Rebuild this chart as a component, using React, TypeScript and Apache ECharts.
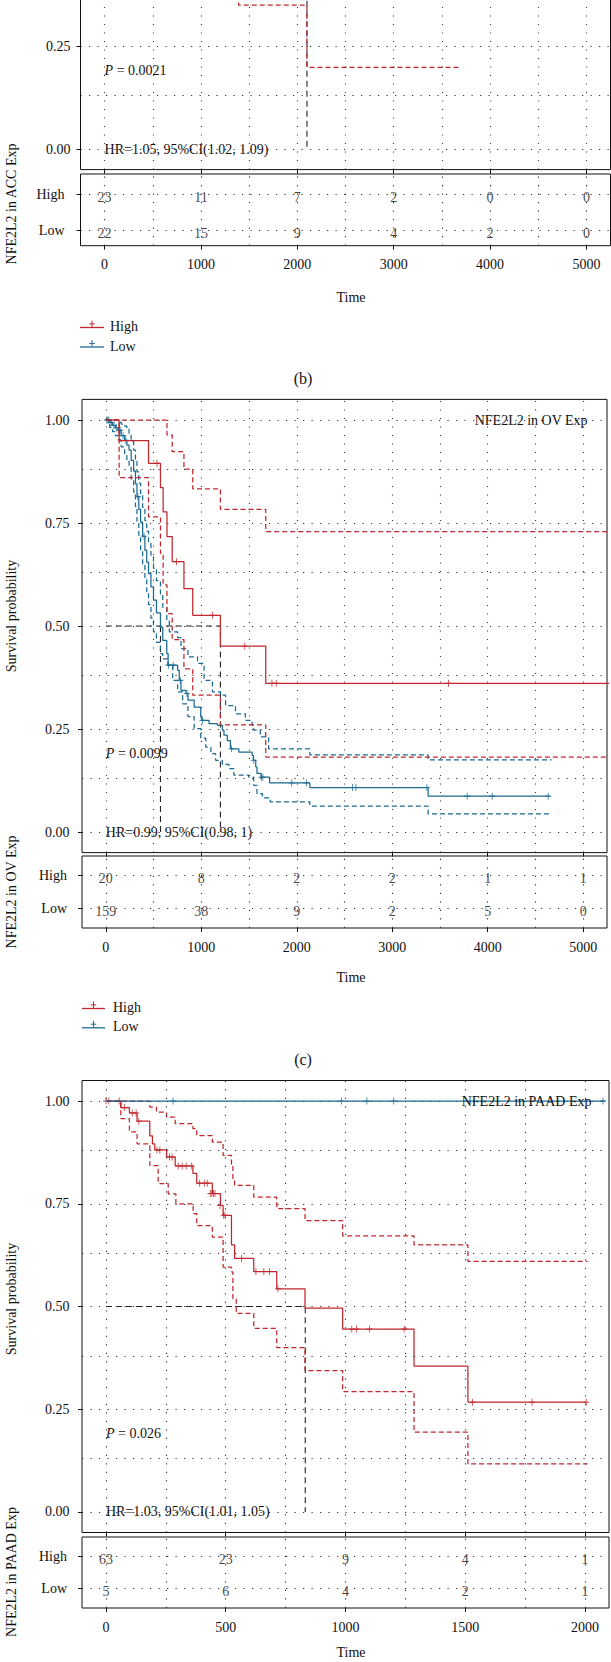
import React, { useEffect, useRef } from "react";
import * as echarts from "echarts";

const W = 611;
const H = 1662;
// the top panel starts above the page: the chart is drawn taller and shifted up by this much
const SHIFT = 284;
const RED = "#C1272D";
const BLUE = "#1B6B93";
const INK = "#111111";
const FONT = "'Liberation Serif', 'Times New Roman', serif";

// ---------- ticks ----------
const LONG_TIME_TICKS = [0, 1000, 2000, 3000, 4000, 5000];
const LONG_TIME_GRID = [0, 500, 1000, 1500, 2000, 2500, 3000, 3500, 4000, 4500, 5000];
const SHORT_TIME_TICKS = [0, 500, 1000, 1500, 2000];
const SHORT_TIME_GRID = [0, 250, 500, 750, 1000, 1250, 1500, 1750, 2000];
const SURV_TICKS = [0, 0.25, 0.5, 0.75, 1];
const SURV_GRID = [0, 0.125, 0.25, 0.375, 0.5, 0.625, 0.75, 0.875, 1];
const STRATA = ["Low", "High"]; // risk-table rows at y = 1, 2
const STRATA_Y = [1, 2];

// ---------- (b) ACC ----------
const ACC_HIGH_AT_RISK = [23, 11, 7, 2, 0, 0];
const ACC_LOW_AT_RISK = [22, 15, 9, 4, 2, 0];
const ACC_HIGH_LOWER = [[1000, 0.42], [1390, 0.349], [2100, 0.198], [3700, 0.198]];
const ACC_MEDIAN = [[0, 0.5], [2100, 0.5], [2100, 0]];

// ---------- (c) OV ----------
const OV_HIGH_AT_RISK = [20, 8, 2, 2, 1, 1];
const OV_LOW_AT_RISK = [159, 38, 9, 2, 5, 0];
const OV_HIGH_SURV = [[0, 1], [139, 0.95], [447, 0.895], [572, 0.836], [600, 0.777], [640, 0.717], [695, 0.656], [818, 0.591], [910, 0.526], [1200, 0.451], [1675, 0.361], [5300, 0.361]];
const OV_HIGH_UPPER = [[0, 1], [640, 0.964], [695, 0.923], [818, 0.881], [910, 0.833], [1200, 0.783], [1675, 0.729], [5300, 0.729]];
const OV_HIGH_LOWER = [[0, 1], [139, 0.86], [447, 0.765], [572, 0.676], [600, 0.6], [640, 0.53], [695, 0.467], [818, 0.396], [910, 0.332], [1200, 0.26], [1675, 0.182], [5300, 0.182]];
const OV_HIGH_CENSOR = [[535, 0.895], [740, 0.656], [1118, 0.526], [1455, 0.451], [1740, 0.361], [1785, 0.361], [3590, 0.361]];
const OV_LOW_SURV = [[0, 1], [40, 0.994], [70, 0.987], [100, 0.981], [130, 0.975], [160, 0.962], [197, 0.951], [220, 0.939], [243, 0.927], [265, 0.902], [291, 0.876], [310, 0.845], [326, 0.814], [345, 0.783], [364, 0.752], [385, 0.718], [409, 0.684], [428, 0.655], [447, 0.627], [472, 0.595], [499, 0.563], [530, 0.532], [572, 0.497], [596, 0.465], [638, 0.433], [652, 0.405], [752, 0.392], [769, 0.368], [787, 0.344], [839, 0.336], [860, 0.32], [925, 0.303], [994, 0.279], [1005, 0.271], [1081, 0.263], [1168, 0.259], [1220, 0.247], [1237, 0.235], [1272, 0.222], [1305, 0.202], [1393, 0.194], [1532, 0.186], [1545, 0.174], [1570, 0.158], [1583, 0.142], [1625, 0.133], [1715, 0.119], [2137, 0.108], [3376, 0.087], [4650, 0.087]];
const OV_LOW_UPPER = [[0, 1], [130, 0.995], [160, 0.99], [197, 0.985], [220, 0.977], [243, 0.967], [265, 0.948], [291, 0.927], [310, 0.9], [326, 0.874], [345, 0.847], [364, 0.819], [385, 0.788], [409, 0.756], [428, 0.73], [447, 0.702], [472, 0.672], [499, 0.64], [530, 0.61], [572, 0.578], [596, 0.545], [638, 0.513], [665, 0.486], [752, 0.472], [787, 0.445], [860, 0.425], [960, 0.409], [1029, 0.368], [1116, 0.34], [1202, 0.332], [1254, 0.307], [1358, 0.287], [1462, 0.271], [1532, 0.259], [1549, 0.247], [1618, 0.231], [1705, 0.202], [2137, 0.187], [3376, 0.175], [4669, 0.175]];
const OV_LOW_LOWER = [[0, 1], [40, 0.982], [70, 0.972], [100, 0.962], [130, 0.952], [160, 0.935], [197, 0.917], [220, 0.902], [243, 0.887], [265, 0.856], [291, 0.825], [310, 0.79], [326, 0.754], [345, 0.72], [364, 0.685], [385, 0.648], [409, 0.612], [428, 0.582], [447, 0.552], [472, 0.519], [499, 0.486], [530, 0.46], [572, 0.433], [596, 0.42], [648, 0.405], [700, 0.368], [752, 0.34], [804, 0.311], [860, 0.28], [925, 0.251], [994, 0.228], [1046, 0.206], [1100, 0.19], [1150, 0.174], [1220, 0.164], [1289, 0.154], [1341, 0.138], [1497, 0.133], [1549, 0.113], [1583, 0.093], [1640, 0.083], [1722, 0.073], [2137, 0.063], [3376, 0.044], [4669, 0.044]];
const OV_LOW_CENSOR = [[10, 1], [20, 1], [30, 1], [45, 0.994], [60, 0.994], [85, 0.987], [110, 0.981], [140, 0.975], [150, 0.975], [180, 0.962], [210, 0.951], [336, 0.814], [400, 0.718], [655, 0.405], [705, 0.405], [780, 0.368], [850, 0.336], [1012, 0.271], [1317, 0.202], [1549, 0.174], [1630, 0.133], [1645, 0.133], [1947, 0.119], [2102, 0.119], [2584, 0.108], [2619, 0.108], [3363, 0.108], [3785, 0.087], [4047, 0.087], [4634, 0.087]];
const OV_MEDIAN_HIGH = [[0, 0.5], [1200, 0.5], [1200, 0]];
const OV_MEDIAN_LOW = [[572, 0.5], [572, 0]];

// ---------- (d) PAAD ----------
const PAAD_HIGH_AT_RISK = [63, 23, 9, 4, 1];
const PAAD_LOW_AT_RISK = [5, 6, 4, 2, 1];
const PAAD_HIGH_SURV = [[0, 1], [62, 0.984], [98, 0.971], [130, 0.951], [183, 0.915], [194, 0.896], [204, 0.881], [253, 0.864], [289, 0.842], [363, 0.824], [379, 0.8], [444, 0.775], [478, 0.746], [489, 0.722], [524, 0.65], [537, 0.617], [617, 0.585], [713, 0.543], [831, 0.496], [988, 0.445], [1286, 0.355], [1511, 0.267], [2005, 0.267]];
const PAAD_HIGH_UPPER = [[0, 1], [183, 0.985], [211, 0.973], [253, 0.961], [289, 0.945], [363, 0.933], [379, 0.916], [444, 0.9], [489, 0.868], [524, 0.843], [530, 0.811], [537, 0.795], [617, 0.766], [713, 0.738], [831, 0.709], [988, 0.672], [1286, 0.65], [1511, 0.61], [2010, 0.61]];
const PAAD_HIGH_LOWER = [[0, 1], [62, 0.957], [98, 0.925], [130, 0.896], [183, 0.843], [218, 0.799], [260, 0.774], [292, 0.75], [364, 0.726], [379, 0.697], [444, 0.669], [489, 0.596], [524, 0.584], [530, 0.519], [544, 0.483], [617, 0.447], [713, 0.4], [831, 0.344], [988, 0.293], [1286, 0.194], [1511, 0.117], [2010, 0.117]];
const PAAD_HIGH_CENSOR = [[0, 1], [12, 1], [55, 1], [77, 0.984], [110, 0.971], [126, 0.971], [137, 0.951], [213, 0.881], [225, 0.881], [265, 0.864], [276, 0.864], [302, 0.842], [318, 0.842], [335, 0.842], [358, 0.842], [391, 0.8], [412, 0.8], [423, 0.8], [436, 0.775], [442, 0.775], [449, 0.775], [455, 0.775], [476, 0.746], [491, 0.722], [497, 0.722], [566, 0.617], [626, 0.585], [659, 0.585], [683, 0.585], [718, 0.543], [1026, 0.445], [1046, 0.445], [1100, 0.445], [1245, 0.445], [1530, 0.267], [1779, 0.267], [2005, 0.267]];
const PAAD_LOW_SURV = [[0, 1], [2085, 1]];
const PAAD_LOW_CENSOR = [[280, 1], [983, 1], [1089, 1], [1201, 1], [2075, 1]];
const PAAD_MEDIAN = [[0, 0.5], [832, 0.5], [832, 0]];

// ---------- layout (page coordinates) ----------
type Box = { left: number; top: number; width: number; height: number };
type Panel = {
  surv: Box; risk: Box; riskY: [number, number];
  xmin: number; xmax: number; xTicks: number[]; xGrid: number[];
  yLabelMargin: number; riskLabelMargin: number;
};
const SURV_Y: [number, number] = [-0.05, 1.05];

const PANEL_B: Panel = {
  surv: { left: 80.5, top: -283.6, width: 530, height: 453.2 },
  risk: { left: 80.5, top: 174, width: 530, height: 71.7 },
  riskY: [0.56, 2.57], xmin: -250, xmax: 5250, xTicks: LONG_TIME_TICKS, xGrid: LONG_TIME_GRID,
  yLabelMargin: 10, riskLabelMargin: 16,
};
const PANEL_C: Panel = {
  surv: { left: 82, top: 399.4, width: 525, height: 453.2 },
  risk: { left: 82, top: 856, width: 525, height: 72 },
  riskY: [0.4, 2.6], xmin: -250, xmax: 5250, xTicks: LONG_TIME_TICKS, xGrid: LONG_TIME_GRID,
  yLabelMargin: 12.5, riskLabelMargin: 15,
};
const PANEL_D: Panel = {
  surv: { left: 82, top: 1080.5, width: 527, height: 452 },
  risk: { left: 82, top: 1537, width: 527, height: 71 },
  riskY: [0.4, 2.6], xmin: -100, xmax: 2100, xTicks: SHORT_TIME_TICKS, xGrid: SHORT_TIME_GRID,
  yLabelMargin: 12.5, riskLabelMargin: 15,
};

const px = (p: Panel, t: number) => p.surv.left + ((t - p.xmin) / (p.xmax - p.xmin)) * p.surv.width;
const pyS = (p: Panel, s: number) => p.surv.top + ((SURV_Y[1] - s) / (SURV_Y[1] - SURV_Y[0])) * p.surv.height;
const Y = (pageY: number) => pageY + SHIFT; // page y -> chart y

const PLUS = "path://M3,0L3,7M0,3.5L6,3.5";

function dotGrid(xs: number[], ys: number[]) {
  return {
    silent: true,
    symbol: ["none", "none"],
    label: { show: false },
    emphasis: { disabled: true },
    lineStyle: { color: "#333", width: 1.1, type: [1.2, 7.3] },
    data: [...xs.map((v) => ({ xAxis: v })), ...ys.map((v) => ({ yAxis: v }))],
  };
}

function stepLine(data: number[][], color: string, dashed: boolean, idx: number, z = 3) {
  return {
    type: "line", xAxisIndex: idx, yAxisIndex: idx, data, step: "end",
    showSymbol: false, symbol: "none", silent: true, clip: true, z,
    lineStyle: { color, width: 1.25, type: dashed ? [5, 3] : "solid" },
  };
}

function censor(data: number[][], color: string, idx: number) {
  return {
    type: "scatter", xAxisIndex: idx, yAxisIndex: idx, data, symbol: PLUS,
    symbolSize: [6, 7], silent: true, clip: true, z: 4,
    itemStyle: { color, borderColor: color, borderWidth: 1 },
  };
}

function median(data: number[][], idx: number, grid?: any) {
  const s: any = {
    type: "line", xAxisIndex: idx, yAxisIndex: idx, data, showSymbol: false, symbol: "none",
    silent: true, clip: true, z: 2,
    lineStyle: { color: "#222", width: 1.1, type: [6, 4] },
  };
  if (grid) s.markLine = grid;
  return s;
}

function riskSeries(p: Panel, idx: number, high: number[], low: number[]) {
  const data = [
    ...p.xTicks.map((t, i) => [t, STRATA_Y[1], high[i]]),
    ...p.xTicks.map((t, i) => [t, STRATA_Y[0], low[i]]),
  ];
  return {
    type: "scatter", xAxisIndex: idx, yAxisIndex: idx, data, symbolSize: 1, silent: true, z: 3,
    itemStyle: { color: "transparent" },
    label: {
      show: true, position: "inside", offset: [0, 3],
      formatter: (q: any) => String(q.value[2]),
      fontFamily: FONT, fontSize: 14, color: INK,
    },
    markLine: dotGrid(p.xGrid, STRATA_Y),
  };
}

function axesFor(p: Panel, k: number, grids: any[], xAxis: any[], yAxis: any[]) {
  const gi = k * 2;
  const ri = k * 2 + 1;
  const border = { show: true, borderColor: "#111", borderWidth: 1, backgroundColor: "transparent" };
  grids.push({ ...p.surv, top: Y(p.surv.top), ...border });
  grids.push({ ...p.risk, top: Y(p.risk.top), ...border });
  const tickStyle = { show: true, length: 4, inside: false, lineStyle: { color: "#111", width: 1 } };
  const labelFont = { fontFamily: FONT, fontSize: 14, color: INK };
  xAxis.push({
    gridIndex: gi, type: "value", min: p.xmin, max: p.xmax, position: "bottom",
    axisLine: { show: false, onZero: false },
    axisTick: { ...tickStyle, customValues: p.xTicks },
    axisLabel: { show: false },
    splitLine: { show: false },
  });
  xAxis.push({
    gridIndex: ri, type: "value", min: p.xmin, max: p.xmax, position: "bottom",
    axisLine: { show: false, onZero: false },
    axisTick: { ...tickStyle, customValues: p.xTicks },
    axisLabel: { ...labelFont, show: true, margin: 12, customValues: p.xTicks, formatter: (v: number) => String(v) },
    splitLine: { show: false },
  });
  const visibleSurvTicks = SURV_TICKS.filter((v) => pyS(p, v) > 4);
  yAxis.push({
    gridIndex: gi, type: "value", min: SURV_Y[0], max: SURV_Y[1], position: "left",
    axisLine: { show: false, onZero: false },
    axisTick: { ...tickStyle, customValues: SURV_TICKS },
    axisLabel: { ...labelFont, show: true, margin: p.yLabelMargin, customValues: visibleSurvTicks, formatter: (v: number) => v.toFixed(2) },
    splitLine: { show: false },
  });
  yAxis.push({
    gridIndex: ri, type: "value", min: p.riskY[0], max: p.riskY[1], position: "left",
    axisLine: { show: false, onZero: false },
    axisTick: { ...tickStyle, customValues: STRATA_Y },
    axisLabel: { ...labelFont, show: true, margin: p.riskLabelMargin, customValues: STRATA_Y, formatter: (v: number) => STRATA[Math.round(v) - 1] },
    splitLine: { show: false },
  });
}

function text(x: number, pageY: number, t: string, extra: any = {}) {
  const { rotation, ...style } = extra;
  return {
    type: "text", x, y: Y(pageY), silent: true, rotation: rotation || 0, z: 10,
    style: { text: t, fontFamily: FONT, fontSize: 14, fill: INK, align: "left", verticalAlign: "middle", ...style },
  };
}

function pText(x: number, pageY: number, value: string) {
  return text(x, pageY, "{i|P} = " + value, {
    rich: { i: { fontStyle: "italic", fontFamily: FONT, fontSize: 14, fill: INK } },
  });
}

function legend(x1: number, x2: number, tx: number, yHigh: number, yLow: number) {
  const items: any[] = [];
  [[yHigh, RED, "High"], [yLow, BLUE, "Low"]].forEach(([py, c, name]: any) => {
    const y = Y(py);
    const cx = (x1 + x2) / 2;
    items.push({ type: "line", silent: true, shape: { x1, y1: y, x2, y2: y }, style: { stroke: c, lineWidth: 1.3 } });
    items.push({ type: "line", silent: true, shape: { x1: cx, y1: y - 7, x2: cx, y2: y - 0.5 }, style: { stroke: c, lineWidth: 1 } });
    items.push({ type: "line", silent: true, shape: { x1: cx - 2.8, y1: y - 3.6, x2: cx + 2.8, y2: y - 3.6 }, style: { stroke: c, lineWidth: 1 } });
    items.push(text(tx, py - 1, name));
  });
  return items;
}

function buildOption() {
  const grid: any[] = [];
  const xAxis: any[] = [];
  const yAxis: any[] = [];
  [PANEL_B, PANEL_C, PANEL_D].forEach((p, k) => axesFor(p, k, grid, xAxis, yAxis));

  const series: any[] = [
    // (b) ACC
    median(ACC_MEDIAN, 0, dotGrid(PANEL_B.xGrid, SURV_GRID)),
    stepLine(ACC_HIGH_LOWER, RED, true, 0),
    riskSeries(PANEL_B, 1, ACC_HIGH_AT_RISK, ACC_LOW_AT_RISK),
    // (c) OV
    median(OV_MEDIAN_HIGH, 2, dotGrid(PANEL_C.xGrid, SURV_GRID)),
    median(OV_MEDIAN_LOW, 2),
    stepLine(OV_LOW_UPPER, BLUE, true, 2),
    stepLine(OV_LOW_LOWER, BLUE, true, 2),
    stepLine(OV_LOW_SURV, BLUE, false, 2),
    censor(OV_LOW_CENSOR, BLUE, 2),
    stepLine(OV_HIGH_UPPER, RED, true, 2),
    stepLine(OV_HIGH_LOWER, RED, true, 2),
    stepLine(OV_HIGH_SURV, RED, false, 2, 5),
    censor(OV_HIGH_CENSOR, RED, 2),
    riskSeries(PANEL_C, 3, OV_HIGH_AT_RISK, OV_LOW_AT_RISK),
    // (d) PAAD
    median(PAAD_MEDIAN, 4, dotGrid(PANEL_D.xGrid, SURV_GRID)),
    stepLine(PAAD_HIGH_UPPER, RED, true, 4),
    stepLine(PAAD_HIGH_LOWER, RED, true, 4),
    stepLine(PAAD_HIGH_SURV, RED, false, 4),
    censor(PAAD_HIGH_CENSOR, RED, 4),
    stepLine(PAAD_LOW_SURV, BLUE, false, 4, 5),
    censor(PAAD_LOW_CENSOR, BLUE, 4),
    riskSeries(PANEL_D, 5, PAAD_HIGH_AT_RISK, PAAD_LOW_AT_RISK),
  ];

  const rot = { rotation: Math.PI / 2, align: "center" };
  const graphic: any[] = [
    // (b)
    pText(px(PANEL_B, 0), pyS(PANEL_B, 0.19), "0.0021"),
    text(px(PANEL_B, 0), pyS(PANEL_B, 0), "HR=1.05, 95%CI(1.02, 1.09)"),
    text(11, 204, "NFE2L2 in ACC Exp", rot),
    text(351, 297, "Time", { align: "center" }),
    ...legend(80, 104, 110, 327.5, 347),
    text(303, 378, "(b)", { align: "center", fontSize: 16 }),
    // (c)
    text(587.6, pyS(PANEL_C, 1), "NFE2L2 in OV Exp", { align: "right" }),
    pText(px(PANEL_C, 0), pyS(PANEL_C, 0.19), "0.0099"),
    text(px(PANEL_C, 0), pyS(PANEL_C, 0), "HR=0.99, 95%CI(0.98, 1)"),
    text(11, 616, "Survival probability", rot),
    text(11, 892, "NFE2L2 in OV Exp", rot),
    text(351, 977, "Time", { align: "center" }),
    ...legend(82, 105, 113, 1008.5, 1027.8),
    text(303, 1059, "(c)", { align: "center", fontSize: 16 }),
    // (d)
    text(591.5, pyS(PANEL_D, 1), "NFE2L2 in PAAD Exp", { align: "right" }),
    pText(px(PANEL_D, 0), pyS(PANEL_D, 0.19), "0.026"),
    text(px(PANEL_D, 0), pyS(PANEL_D, 0), "HR=1.03, 95%CI(1.01, 1.05)"),
    text(11, 1299, "Survival probability", rot),
    text(11, 1572, "NFE2L2 in PAAD Exp", rot),
    text(351, 1652, "Time", { align: "center" }),
  ];

  return {
    animation: false,
    backgroundColor: "#ffffff",
    textStyle: { fontFamily: FONT },
    grid,
    xAxis,
    yAxis,
    series,
    graphic,
  };
}

export default function App() {
  const ref = useRef<HTMLDivElement>(null);
  useEffect(() => {
    if (!ref.current) return;
    const chart = echarts.init(ref.current, undefined, { renderer: "svg", width: W, height: H + SHIFT });
    chart.setOption(buildOption() as any);
    return () => chart.dispose();
  }, []);
  return (
    <div style={{ position: "absolute", left: 0, top: 0, width: W, height: H, overflow: "hidden", background: "#fff" }}>
      <div
        ref={ref}
        style={{ position: "absolute", left: 0, top: -SHIFT, width: W, height: H + SHIFT }}
      />
    </div>
  );
}
